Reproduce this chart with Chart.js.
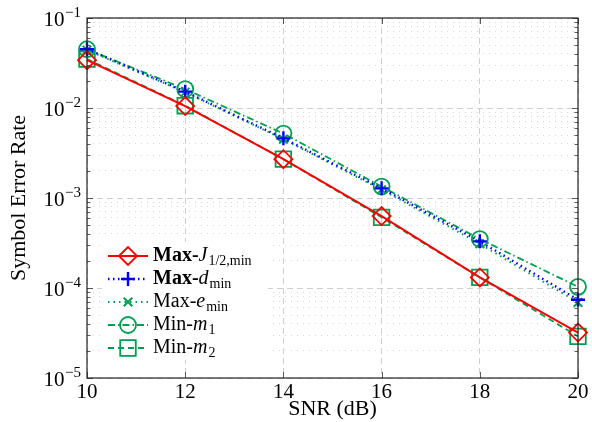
<!DOCTYPE html>
<html>
<head>
<meta charset="utf-8">
<script src="https://cdn.jsdelivr.net/npm/chart.js@4.4.0/dist/chart.umd.min.js"></script>
<style>
html, body { margin: 0; padding: 0; background: #fff; }
</style>
</head>
<body>
<canvas id="myChart" width="592" height="422"></canvas>
<script>
var snr = [10, 12, 14, 16, 18, 20];
var maxJ = [0.034, 0.0105, 0.0027, 0.00063, 0.000131, 0.000032];
var maxD = [0.045, 0.0152, 0.0046, 0.00128, 0.00033, 0.000074];
var maxE = [0.044, 0.0150, 0.0045, 0.00124, 0.00031, 0.000069];
var minM1 = [0.045, 0.0162, 0.0052, 0.00134, 0.00035, 0.000103];
var minM2 = [0.035, 0.0106, 0.0027, 0.00061, 0.000131, 0.000029];

var xTicks = [10, 12, 14, 16, 18, 20];
var yDecades = [1e-5, 1e-4, 1e-3, 1e-2, 1e-1];
var yExponents = ['\u22125', '\u22124', '\u22123', '\u22122', '\u22121'];

var legendText = [
  [['Max-', 'bold'], ['J', 'italic'], ['1/2,min', 'sub']],
  [['Max-', 'bold'], ['d', 'italic'], ['min', 'sub']],
  [['Max-', ''], ['e', 'italic'], ['min', 'sub']],
  [['Min-', ''], ['m', 'italic'], ['1', 'sub']],
  [['Min-', ''], ['m', 'italic'], ['2', 'sub']]
];

var serif = '"Liberation Serif", "DejaVu Serif", serif';
var red = 'rgb(255,0,0)', blue = 'rgb(0,0,255)', green = 'rgb(0,160,80)';

function pts(vals) {
  return snr.map(function (x, i) { return {x: x, y: vals[i]}; });
}
function isDecade(v) {
  var l = Math.log10(v);
  return Math.abs(l - Math.round(l)) < 1e-6;
}

// all minor + major ticks of the log axis
var yAllTicks = [];
for (var e = -5; e < -1; e++) {
  for (var m = 1; m < 10; m++) yAllTicks.push(m * Math.pow(10, e));
}
yAllTicks.push(0.1);

var frameTicks = {
  id: 'frameTicks',
  afterDraw: function (chart) {
    var c = chart.ctx, a = chart.chartArea;
    var ys = chart.scales.y, xs = chart.scales.x;
    c.save();
    c.strokeStyle = '#333';
    c.lineWidth = 0.8;
    c.setLineDash([]);
    c.beginPath();
    yAllTicks.forEach(function (v) {
      var y = Math.round(ys.getPixelForValue(v)) + 0.5;
      var len = isDecade(v) ? 6 : 3.5;
      c.moveTo(a.left, y); c.lineTo(a.left + len, y);
      c.moveTo(a.right, y); c.lineTo(a.right - len, y);
    });
    xTicks.forEach(function (v) {
      var x = Math.round(xs.getPixelForValue(v)) + 0.5;
      c.moveTo(x, a.bottom); c.lineTo(x, a.bottom - 6);
      c.moveTo(x, a.top); c.lineTo(x, a.top + 6);
    });
    c.stroke();
    c.strokeStyle = '#222';
    c.lineWidth = 1.2;
    c.strokeRect(a.left, a.top, a.right - a.left, a.bottom - a.top);

    // y tick labels 10^n
    c.fillStyle = '#000';
    c.textBaseline = 'middle';
    yDecades.forEach(function (v, i) {
      var y = ys.getPixelForValue(v);
      c.font = '15px ' + serif;
      var sw = c.measureText(yExponents[i]).width;
      var sx = a.left - 6 - sw;
      c.textAlign = 'left';
      c.fillText(yExponents[i], sx, y - 5);
      c.font = '21px ' + serif;
      c.textAlign = 'right';
      c.fillText('10', sx - 0.5, y + 2);
    });
    c.restore();
  }
};

var insideLegend = {
  id: 'insideLegend',
  afterDraw: function (chart) {
    var c = chart.ctx;
    var rows = [256, 279, 302, 325, 348];
    c.save();
    c.fillStyle = '#fff';
    c.fillRect(102, 242, 166, 118);
    chart.data.datasets.forEach(function (ds, i) {
      var y = rows[i];
      c.strokeStyle = ds.borderColor;
      c.lineWidth = ds.borderWidth;
      c.setLineDash(ds.borderDash || []);
      c.beginPath();
      c.moveTo(108, y); c.lineTo(148, y);
      c.stroke();
      c.setLineDash([]);
      c.fillStyle = 'rgba(0,0,0,0)';
      c.lineWidth = ds.pointBorderWidth;
      Chart.helpers.drawPoint(c, {pointStyle: ds.pointStyle, radius: ds.pointRadius, rotation: 0, borderWidth: ds.pointBorderWidth}, 128, y);
      var x = 153;
      c.fillStyle = '#000';
      c.textAlign = 'left';
      c.textBaseline = 'middle';
      legendText[i].forEach(function (p) {
        if (p[1] === 'sub') {
          c.font = '14px ' + serif;
          c.fillText(p[0], x + 1, y + 5);
          x += c.measureText(p[0]).width + 1;
        } else {
          c.font = (p[1] === 'bold' ? 'bold ' : p[1] === 'italic' ? 'italic ' : '') + '20px ' + serif;
          c.fillText(p[0], x, y);
          x += c.measureText(p[0]).width;
        }
      });
    });
    c.restore();
  }
};

var ctx = document.getElementById('myChart');

var myChart = new Chart(ctx, {
  type: 'line',
  data: {
    datasets: [{
      label: 'Max-J1/2,min',
      data: pts(maxJ),
      borderColor: red,
      borderWidth: 2,
      pointStyle: 'rectRot',
      pointRadius: 9,
      pointBorderWidth: 1.8,
      pointBorderColor: red,
      pointBackgroundColor: 'rgba(0,0,0,0)'
    }, {
      label: 'Max-dmin',
      data: pts(maxD),
      borderColor: blue,
      borderWidth: 2.4,
      borderDash: [1.5, 3.5],
      pointStyle: 'cross',
      pointRadius: 7,
      pointBorderWidth: 2.4,
      pointBorderColor: blue,
      pointBackgroundColor: 'rgba(0,0,0,0)'
    }, {
      label: 'Max-emin',
      data: pts(maxE),
      borderColor: green,
      borderWidth: 2,
      borderDash: [1.5, 4],
      pointStyle: 'crossRot',
      pointRadius: 6,
      pointBorderWidth: 2,
      pointBorderColor: green,
      pointBackgroundColor: 'rgba(0,0,0,0)'
    }, {
      label: 'Min-m1',
      data: pts(minM1),
      borderColor: green,
      borderWidth: 1.8,
      borderDash: [7, 3, 1.5, 3],
      pointStyle: 'circle',
      pointRadius: 8,
      pointBorderWidth: 1.8,
      pointBorderColor: green,
      pointBackgroundColor: 'rgba(0,0,0,0)'
    }, {
      label: 'Min-m2',
      data: pts(minM2),
      borderColor: green,
      borderWidth: 1.8,
      borderDash: [6, 4],
      pointStyle: 'rect',
      pointRadius: 11,
      pointBorderWidth: 1.8,
      pointBorderColor: green,
      pointBackgroundColor: 'rgba(0,0,0,0)'
    }]
  },
  options: {
    responsive: false,
    animation: false,
    devicePixelRatio: 1,
    clip: false,
    layout: { padding: { left: 0, right: 14, top: 18, bottom: 0 } },
    elements: { line: { tension: 0, fill: false } },
    plugins: { legend: { display: false }, tooltip: { enabled: false } },
    scales: {
      x: {
        type: 'linear',
        min: 10,
        max: 20,
        afterBuildTicks: function (s) { s.ticks = xTicks.map(function (v) { return {value: v}; }); },
        afterFit: function (s) { s.height = 44; },
        grid: { color: '#cfcfcf', lineWidth: 1, drawTicks: false },
        border: { display: false, dash: [6, 4] },
        ticks: { font: { family: serif, size: 21 }, color: '#000', padding: 2, maxRotation: 0 },
        title: { display: true, text: 'SNR (dB)', font: { family: serif, size: 22 }, color: '#000', padding: { top: 0, bottom: 0 } }
      },
      y: {
        type: 'logarithmic',
        min: 1e-5,
        max: 1e-1,
        afterBuildTicks: function (s) { s.ticks = yAllTicks.map(function (v) { return {value: v}; }); },
        afterFit: function (s) { s.width = 87; },
        grid: {
          drawTicks: false,
          color: function (c) { return c.tick && isDecade(c.tick.value) ? '#cfcfcf' : '#d6d6d6'; },
          lineWidth: 1
        },
        border: {
          display: false,
          dash: function (c) { return c.tick && isDecade(c.tick.value) ? [6, 4] : [1, 5]; }
        },
        ticks: { display: false },
        title: { display: true, text: 'Symbol Error Rate', font: { family: serif, size: 22 }, color: '#000', padding: { top: 6, bottom: 0 } }
      }
    }
  },
  plugins: [frameTicks, insideLegend]
});
</script>
</body>
</html>
